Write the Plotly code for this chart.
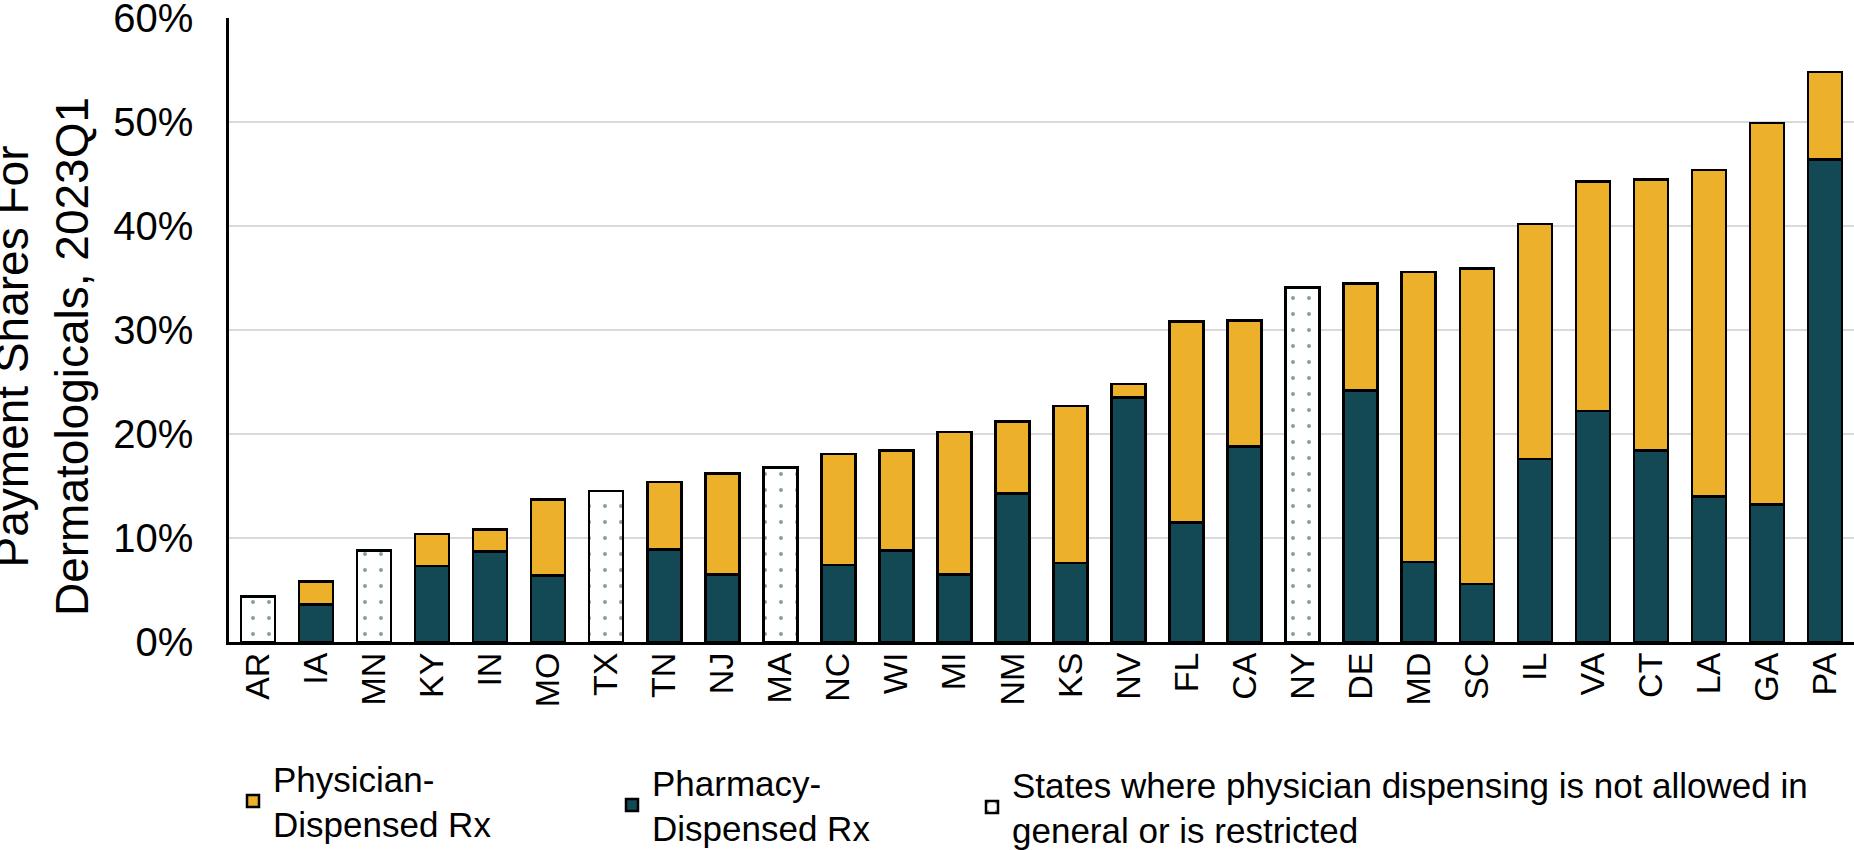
import plotly.graph_objects as go

states = ["AR", "IA", "MN", "KY", "IN", "MO", "TX", "TN", "NJ", "MA", "NC", "WI", "MI", "NM",
          "KS", "NV", "FL", "CA", "NY", "DE", "MD", "SC", "IL", "VA", "CT", "LA", "GA", "PA"]

# Pharmacy-dispensed share (%), None where physician dispensing is restricted
pharmacy = [None, 3.6, None, 7.3, 8.7, 6.4, None, 8.9, 6.5, None, 7.4, 8.8, 6.5, 14.3,
            7.6, 23.5, 11.5, 18.8, None, 24.2, 7.7, 5.6, 17.6, 22.2, 18.4, 14.0, 13.2, 46.4]
# Physician-dispensed share (%)
physician = [None, 2.2, None, 3.1, 2.1, 7.3, None, 6.5, 9.7, None, 10.7, 9.6, 13.7, 6.9,
             15.1, 1.3, 19.3, 12.1, None, 10.3, 27.9, 30.3, 22.6, 22.1, 26.1, 31.4, 36.7, 8.4]
# Total share (%) for states where physician dispensing is not allowed / restricted
restricted = [4.4, None, 8.8, None, None, None, 14.5, None, None, 16.8, None, None, None, None,
              None, None, None, None, 34.1, None, None, None, None, None, None, None, None, None]

y_ticks = [0, 10, 20, 30, 40, 50, 60]
y_tick_labels = ["0%", "10%", "20%", "30%", "40%", "50%", "60%"]

TEAL = "#134954"
DOT = "#0E3E48"
GOLD = "#ECB02A"
FONT = "Liberation Sans, Arial, sans-serif"

W, H = 1854, 850
ML, MR, MT, MB = 229, 0, 18, 208
PW, PH = W - ML - MR, H - MT - MB


def px_x(p):
    return (p - ML) / PW


def px_y(p):
    return (H - MB - p) / PH


fig = go.Figure()
fig.add_trace(go.Bar(
    x=states, y=pharmacy, name="Pharmacy-<br>Dispensed Rx",
    marker=dict(color=TEAL, line=dict(color="black", width=2.5)),
    legend="legend2",
))
fig.add_trace(go.Bar(
    x=states, y=physician, name="Physician-<br>Dispensed Rx",
    marker=dict(color=GOLD, line=dict(color="black", width=2.5)),
    legend="legend",
))
fig.add_trace(go.Bar(
    x=states, y=restricted,
    name="States where physician dispensing is not allowed in<br>general or is restricted",
    marker=dict(color="white", line=dict(color="black", width=2.5),
                pattern=dict(shape=".", fgcolor=DOT, bgcolor="white", size=16, solidity=0.05)),
    legend="legend3",
))

legend_common = dict(orientation="v", xanchor="left", yanchor="top", valign="middle",
                     font=dict(family=FONT, size=35, color="black"),
                     bgcolor="rgba(0,0,0,0)", itemclick=False, itemdoubleclick=False)

fig.update_layout(
    width=W, height=H,
    margin=dict(l=ML, r=MR, t=MT, b=MB, pad=0, autoexpand=False),
    paper_bgcolor="white", plot_bgcolor="white",
    barmode="stack", bargap=0.414,
    showlegend=True,
    font=dict(family=FONT, color="black"),
    legend=dict(x=px_x(275 - 42), y=px_y(749), **legend_common),
    legend2=dict(x=px_x(654 - 42), y=px_y(753), **legend_common),
    legend3=dict(x=px_x(1014 - 42), y=px_y(755), **legend_common),
    xaxis=dict(
        tickangle=-90, tickfont=dict(family=FONT, size=34, color="black"),
        showline=True, linecolor="black", linewidth=3,
        showgrid=False, ticks="", fixedrange=True, automargin=False,
        ticklabelstandoff=-6,
    ),
    yaxis=dict(
        range=[0, 60.01], tickvals=y_ticks, ticktext=y_tick_labels,
        tickfont=dict(family=FONT, size=40, color="black"),
        showline=True, linecolor="black", linewidth=2.5,
        showgrid=True, gridcolor="#D9D9D9", gridwidth=2,
        zeroline=False, ticks="", ticklabelstandoff=25, fixedrange=True,
        automargin=False, ticklabeloverflow="allow",
    ),
    annotations=[dict(
        text="Payment Shares For<br>Dermatologicals, 2023Q1",
        textangle=-90, showarrow=False,
        xref="paper", yref="paper",
        x=px_x(42), y=px_y(357), xanchor="center", yanchor="middle",
        font=dict(family=FONT, size=46, color="black"),
    )],
)

fig.write_html(
    "out.html",
    config={"displayModeBar": False},
    post_script="document.body.style.margin='0';document.body.style.overflow='hidden';",
)
